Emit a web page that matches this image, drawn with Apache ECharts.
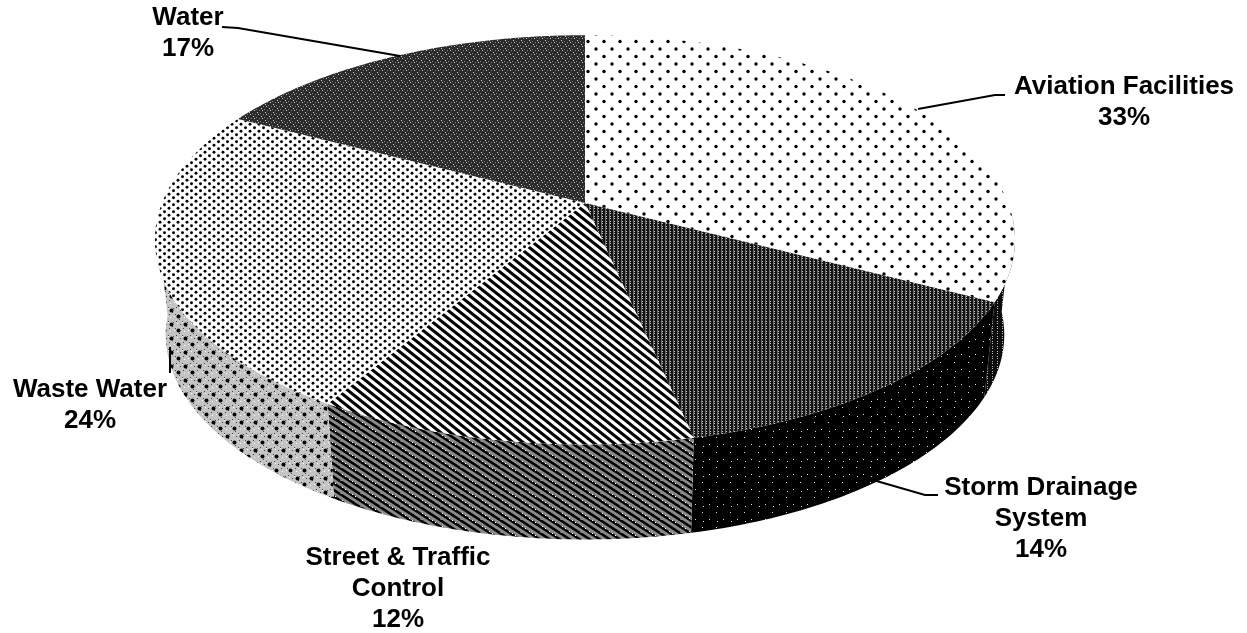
<!DOCTYPE html>
<html>
<head>
<meta charset="utf-8">
<style>html,body{margin:0;background:#fff}#chart{width:1247px;height:633px}</style>
<script src="https://cdn.jsdelivr.net/npm/echarts@6/dist/echarts.min.js"></script>
</head>
<body>
<div id="chart"></div>
<script>
// shares, clockwise from 12 o'clock
var categories = ['Aviation Facilities', 'Storm Drainage System', 'Street & Traffic Control', 'Waste Water', 'Water'];
var shares = [32.6, 14, 12, 24, 17.4];

// label lines per category, leader lines and text anchors
var labelLines = [['Aviation Facilities'], ['Storm Drainage', 'System'], ['Street & Traffic', 'Control'], ['Waste Water'], ['Water']];
var labelAnchors = [[1124, 87], [1041, 488], [398, 558], [90, 390], [188, 18]];
var leaders = [
  [[918, 109], [995, 95], [1005, 95]],
  [[873, 480], [925, 495], [938, 495]],
  null,
  [[170, 347], [170, 373]],
  [[400, 56], [238, 28], [222, 27]]
];

// perspective of the pie disc
var CX = 585, CY = 203, AX = 423, AY = 198, K = 0.18;
var BOTTOM_DY = 95, BOTTOM_SCALE = 0.975;
var WALL_FROM = 94, WALL_TO = 265;

function tile(w, h, draw) {
  var c = document.createElement('canvas');
  c.width = w; c.height = h;
  var g = c.getContext('2d');
  g.fillStyle = '#fff';
  g.fillRect(0, 0, w, h);
  draw(g, w, h);
  return { image: c, repeat: 'repeat' };
}
function base(g, w, h, color) {
  g.fillStyle = color;
  g.fillRect(0, 0, w, h);
}
function dots(g, list, size, color) {
  g.fillStyle = color;
  list.forEach(function (p) { g.fillRect(p[0], p[1], size, size); });
}
function rounds(g, list, r, color) {
  g.fillStyle = color;
  list.forEach(function (p) {
    g.beginPath();
    g.arc(p[0], p[1], r, 0, Math.PI * 2);
    g.fill();
  });
}
// w,h is one period of the stripe, so it joins up across tiles
function stripes(g, w, h, lw, color, off) {
  g.strokeStyle = color; g.lineWidth = lw;
  for (var i = -2; i < 3; i++) {
    g.beginPath();
    g.moveTo(i * w + off - w, -h);
    g.lineTo(i * w + off + 2 * w, 2 * h);
    g.stroke();
  }
}

var topFills = [
  tile(16, 15, function (g) { rounds(g, [[4, 4], [12, 11.5]], 1.7, '#000'); }),
  tile(4, 5, function (g, w, h) { base(g, w, h, '#141414'); dots(g, [[1, 0], [1, 1], [1, 2], [1, 3], [1, 4]], 1, '#6e6e6e'); dots(g, [[2, 1], [2, 3]], 1, '#c8c8c8'); }),
  tile(10, 8, function (g, w, h) { stripes(g, w, h, 3, '#000', 0); }),
  tile(9, 7, function (g) { rounds(g, [[2.5, 1.8], [7, 5.3]], 1.45, '#000'); }),
  tile(8, 8, function (g, w, h) { base(g, w, h, '#2b2b2b'); dots(g, [[1, 0], [2, 2], [5, 4], [6, 6]], 1, '#d0d0d0'); dots(g, [[4, 1], [0, 5], [3, 6], [7, 2]], 1, '#808080'); })
];
var wallFills = [
  tile(5, 5, function (g, w, h) { base(g, w, h, '#0d0d0d'); dots(g, [[2, 1], [2, 3]], 1, '#bbb'); }),
  tile(14, 15, function (g, w, h) { base(g, w, h, '#000'); dots(g, [[2, 2], [9, 9], [3, 11]], 1, '#ddd'); }),
  tile(20, 13, function (g, w, h) { base(g, w, h, '#8a8a8a'); stripes(g, w / 2, h / 2, 2.6, '#000', 0); dots(g, [[2, 6], [5, 8], [12, 0], [15, 2], [9, 11]], 1, '#fff'); }),
  tile(14, 14, function (g, w, h) {
    base(g, w, h, '#c4c4c4');
    dots(g, [[1, 6], [4, 4], [7, 6], [8, 13], [11, 11], [0, 13], [12, 2], [5, 0]], 1, '#444');
    dots(g, [[0, 0], [9, 1], [2, 9], [6, 8]], 1, '#fff');
    rounds(g, [[3.5, 2.5], [10.5, 8.5]], 2, '#000');
  }),
  '#333'
];

function point(deg) {
  var a = deg * Math.PI / 180, u = Math.sin(a), v = -Math.cos(a), w = 1 - K * v;
  return [CX + AX * u / w, CY + AY * v / w];
}
function lower(p) {
  return [CX + (p[0] - CX) * BOTTOM_SCALE, p[1] + BOTTOM_DY];
}
function arc(from, to) {
  var pts = [], n = Math.max(2, Math.ceil(Math.abs(to - from)));
  for (var i = 0; i <= n; i++) pts.push(point(from + (to - from) * i / n));
  return pts;
}
function sliceAngles(index) {
  var total = shares.reduce(function (a, b) { return a + b; }, 0), before = 0;
  for (var i = 0; i < index; i++) before += shares[i];
  return [before / total * 360, (before + shares[index]) / total * 360];
}

function renderTop(params) {
  var ang = sliceAngles(params.dataIndex);
  return {
    type: 'polygon',
    shape: { points: [[CX, CY]].concat(arc(ang[0], ang[1])) },
    style: { fill: topFills[params.dataIndex], stroke: null }
  };
}
function renderWall(params) {
  var ang = sliceAngles(params.dataIndex);
  var from = Math.max(ang[0], WALL_FROM), to = Math.min(ang[1], WALL_TO);
  if (from >= to) return null;
  var upper = arc(from, to);
  return {
    type: 'polygon',
    shape: { points: upper.concat(upper.map(lower).reverse()) },
    style: { fill: wallFills[params.dataIndex], stroke: null }
  };
}

var graphics = [];
categories.forEach(function (name, i) {
  var lines = labelLines[i].concat([Math.round(shares[i]) + '%']);
  lines.forEach(function (text, j) {
    graphics.push({
      type: 'text', x: labelAnchors[i][0], y: labelAnchors[i][1] + j * 31,
      style: { text: text, fill: '#000', font: 'bold 26px "Liberation Sans", Arial, sans-serif', textAlign: 'center', textVerticalAlign: 'middle' },
      z: 10
    });
  });
  if (leaders[i]) {
    graphics.push({
      type: 'polyline', shape: { points: leaders[i] },
      style: { stroke: '#000', lineWidth: 2, fill: null }, z: 10
    });
  }
});

var chart = echarts.init(document.getElementById('chart'));
chart.setOption({
  animation: false,
  backgroundColor: '#fff',
  graphic: graphics,
  series: [
    { type: 'custom', name: 'walls', coordinateSystem: 'none', renderItem: renderWall, data: shares, z: 1, silent: true },
    { type: 'custom', name: 'tops', coordinateSystem: 'none', renderItem: renderTop, data: shares, z: 2, silent: true }
  ]
});
</script>
</body>
</html>
